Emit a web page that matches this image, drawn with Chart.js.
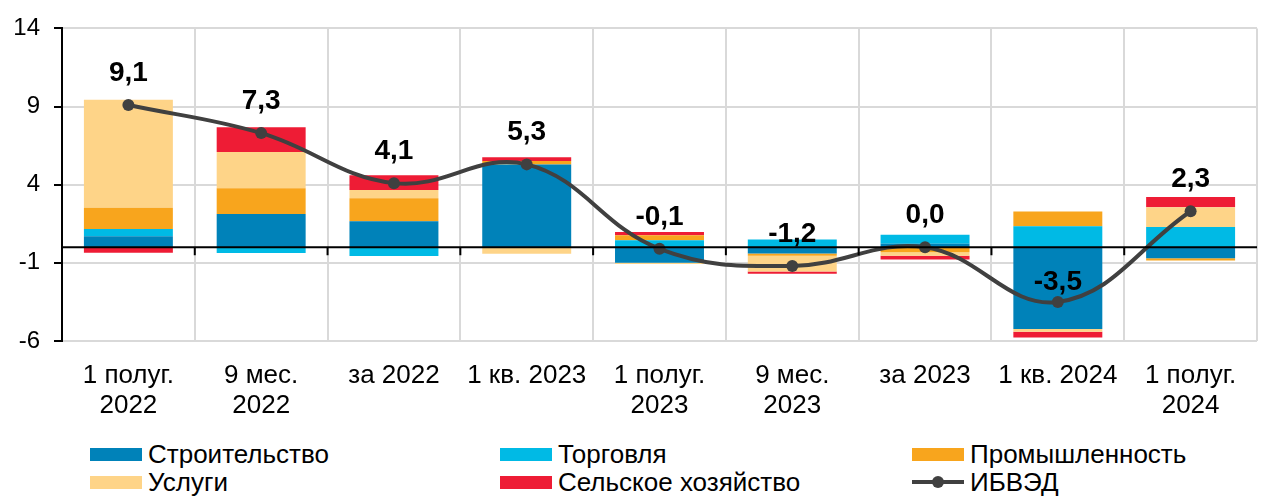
<!DOCTYPE html>
<html>
<head>
<meta charset="utf-8">
<script src="https://cdn.jsdelivr.net/npm/chart.js@4.4.1/dist/chart.umd.min.js"></script>
<style>
  body { margin: 0; background: #fff; font-family: "Liberation Sans", Arial, sans-serif; }
  #wrap { position: relative; width: 1263px; height: 496px; }
  #chart { position: absolute; left: 0; top: 0; }
  .leg { position: absolute; display: flex; align-items: center; font-size: 26px; color: #000; height: 28px; }
  .leg .box { width: 52px; height: 13px; margin-right: 6px; }
  .leg .ln { position: relative; width: 52px; height: 4px; background: #404040; margin-right: 6px; }
  .leg .ln::after { content: ""; position: absolute; left: 20px; top: -4px; width: 12px; height: 12px; border-radius: 50%; background: #404040; }
</style>
</head>
<body>
<div id="wrap">
  <canvas id="chart" width="1263" height="430"></canvas>
  <div id="legend"></div>
</div>
<script>
const categories = [
    ['1 полуг.', '2022'], ['9 мес.', '2022'], 'за 2022', '1 кв. 2023',
    ['1 полуг.', '2023'], ['9 мес.', '2023'], 'за 2023', '1 кв. 2024', ['1 полуг.', '2024']
];
const construction = [0.70, 2.12, 1.66, 5.29, -1.00, -0.40, 0.22, -5.24, -0.70];
const trade        = [0.46, -0.37, -0.56, 0.00, 0.44, 0.50, 0.57, 1.34, 1.30];
const industry     = [1.37, 1.65, 1.47, 0.23, 0.33, -0.15, -0.32, 0.95, -0.15];
const services     = [6.90, 2.32, 0.53, -0.41, -0.08, -1.00, -0.22, -0.17, 1.25];
const agriculture  = [-0.35, 1.58, 0.95, 0.23, 0.21, -0.15, -0.25, -0.36, 0.67];
const ibved        = [9.1, 7.3, 4.1, 5.3, -0.1, -1.2, 0.0, -3.5, 2.3];
const yTicks = [-6, -1, 4, 9, 14];

const seriesNames = ['Строительство', 'Торговля', 'Промышленность', 'Услуги', 'Сельское хозяйство', 'ИБВЭД'];
const seriesColors = ['#0082B9', '#00BAE5', '#F8A51D', '#FED488', '#EE1C35', '#404040'];

const barSeries = [construction, trade, industry, services, agriculture];

const FONT = '"Liberation Sans", Arial, sans-serif';

// zero line with tick marks and value labels above the line points
const extras = {
    id: 'extras',
    afterDatasetsDraw(chart) {
        const { ctx, chartArea, scales: { x, y } } = chart;
        const y0 = y.getPixelForValue(0);
        ctx.save();
        ctx.strokeStyle = '#000';
        ctx.lineWidth = 2;
        ctx.beginPath();
        ctx.moveTo(chartArea.left, y0);
        ctx.lineTo(chartArea.right, y0);
        for (let i = 1; i < categories.length; i++) {
            const xb = (x.getPixelForValue(i - 1) + x.getPixelForValue(i)) / 2;
            ctx.moveTo(xb, y0);
            ctx.lineTo(xb, y0 + 8);
        }
        ctx.stroke();
        ctx.restore();
    },
    afterDraw(chart) {
        const { ctx, scales: { x, y } } = chart;
        ctx.save();
        ctx.font = 'bold 28px ' + FONT;
        ctx.fillStyle = '#000';
        ctx.textAlign = 'center';
        ctx.textBaseline = 'middle';
        ibved.forEach((v, i) => {
            const off = v < -3 ? 20 : 32;
            ctx.fillText(v.toFixed(1).replace('.', ','), x.getPixelForValue(i), y.getPixelForValue(v) - off);
        });
        ctx.restore();
    }
};

const datasets = barSeries.map((d, i) => ({
    type: 'bar',
    label: seriesNames[i],
    data: d,
    backgroundColor: seriesColors[i],
    borderWidth: 0,
    barPercentage: 0.67,
    categoryPercentage: 1,
    stack: 'bars',
    order: 1
}));
datasets.push({
    type: 'line',
    label: seriesNames[5],
    data: ibved,
    borderColor: seriesColors[5],
    backgroundColor: seriesColors[5],
    borderWidth: 4,
    pointRadius: 6,
    pointBackgroundColor: seriesColors[5],
    pointBorderWidth: 0,
    tension: 0.4,
    stack: 'line',
    order: 0
});

new Chart(document.getElementById('chart').getContext('2d'), {
    type: 'bar',
    data: { labels: categories, datasets },
    options: {
        responsive: false,
        animation: false,
        layout: { padding: { top: 25, right: 0, left: 0, bottom: 0 } },
        plugins: { legend: { display: false }, tooltip: { enabled: false } },
        scales: {
            x: {
                stacked: true,
                grid: { color: '#D9D9D9', lineWidth: 2, drawTicks: false, offset: true },
                border: { display: false },
                ticks: { color: '#000', font: { family: FONT, size: 26, lineHeight: 1.15 }, padding: 20, maxRotation: 0, autoSkip: false },
                afterFit: s => { s.height = 89; }
            },
            y: {
                stacked: true,
                min: -6, max: 14,
                afterBuildTicks: s => { s.ticks = yTicks.map(v => ({ value: v })); },
                grid: { color: '#D9D9D9', lineWidth: 2, tickColor: '#000', tickLength: 8, tickWidth: 2 },
                border: { color: '#000', width: 2 },
                ticks: { color: '#000', font: { family: FONT, size: 24 }, padding: 14 },
                afterFit: s => { s.width = 62; }
            }
        }
    },
    plugins: [extras]
});

// legend: 3 columns x 2 rows
const legend = document.getElementById('legend');
const colX = [90, 500, 912];
const rowY = [440, 468];
seriesNames.forEach((name, i) => {
    const el = document.createElement('div');
    el.className = 'leg';
    el.style.left = colX[i % 3] + 'px';
    el.style.top = rowY[Math.floor(i / 3)] + 'px';
    const mark = document.createElement('span');
    if (i === 5) {
        mark.className = 'ln';
    } else {
        mark.className = 'box';
        mark.style.background = seriesColors[i];
    }
    el.appendChild(mark);
    el.appendChild(document.createTextNode(name));
    legend.appendChild(el);
});
</script>
</body>
</html>
